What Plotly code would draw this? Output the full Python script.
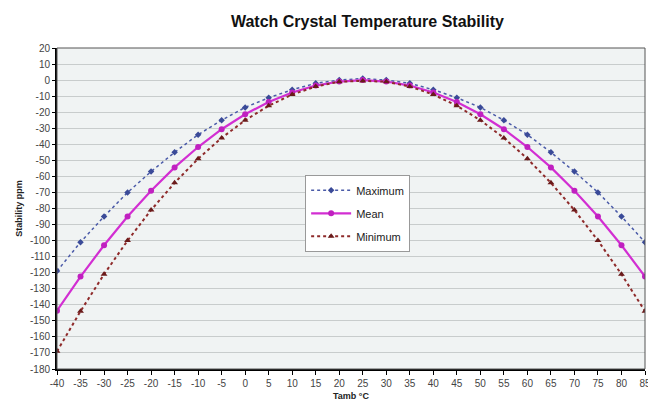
import plotly.graph_objects as go

temps = [-40, -35, -30, -25, -20, -15, -10, -5, 0, 5, 10, 15, 20, 25, 30, 35, 40, 45, 50, 55, 60, 65, 70, 75, 80, 85]
maximum = [-119, -101, -85, -70, -57, -45, -34, -25, -17, -11, -6, -2, 0, 1, 0, -2, -6, -11, -17, -25, -34, -45, -57, -70, -85, -101]
mean = [-143.7, -122.4, -102.9, -85, -68.9, -54.4, -41.7, -30.6, -21.3, -13.6, -7.7, -3.4, -0.9, 0, -0.9, -3.4, -7.7, -13.6, -21.3, -30.6, -41.7, -54.4, -68.9, -85, -102.9, -122.4]
minimum = [-169, -144, -121, -100, -81, -64, -49, -36, -25, -16, -9, -4, -1, -0.5, -1, -4, -9, -16, -25, -36, -49, -64, -81, -100, -121, -144]
x_ticks = list(range(-40, 90, 5))
y_ticks = list(range(-180, 30, 10))

fig = go.Figure()
fig.add_trace(go.Scatter(x=temps, y=maximum, name="Maximum", mode="lines+markers", legendgroup="a",
                         line=dict(color="#4a5aa8", width=1.5, dash="dot"),
                         marker=dict(symbol="diamond", size=5, color="#3a4a98")))
fig.add_trace(go.Scatter(x=temps, y=mean, name="Mean", mode="lines+markers", legendgroup="b",
                         line=dict(color="#d22ed2", width=2.2),
                         marker=dict(symbol="circle", size=6, color="#c020c0")))
fig.add_trace(go.Scatter(x=temps, y=minimum, name="Minimum", mode="lines+markers", legendgroup="c",
                         line=dict(color="#8e2a2a", width=2, dash="dot"),
                         marker=dict(symbol="triangle-up", size=6, color="#6a1a1a")))

fig.update_layout(
    width=648, height=405,
    margin=dict(l=57, r=3, t=48, b=36),
    paper_bgcolor="white",
    plot_bgcolor="#f0f3f3",
    title=dict(text="<b>Watch Crystal Temperature Stability</b>", x=0.567, xanchor="center", y=0.947,
               yanchor="middle",
               font=dict(family="Liberation Sans, Arial", size=16, color="#111")),
    font=dict(family="Liberation Sans, Arial", size=10, color="#333"),
    showlegend=True,
    legend=dict(x=0.422, y=0.605, xanchor="left", yanchor="top",
                bgcolor="white", bordercolor="#999", borderwidth=1,
                font=dict(size=11, color="#222"), tracegroupgap=4, itemwidth=40),
    xaxis=dict(range=[-40, 85], tickvals=x_ticks, ticktext=[str(t) for t in x_ticks],
               showgrid=False, zeroline=False, showline=True, linecolor="black", linewidth=2,
               ticks="outside", ticklen=4, tickcolor="black", mirror=False,
               ticklabeloverflow="allow", automargin=False,
               title=dict(text="<b>Tamb °C</b>", font=dict(size=9, color="#222"), standoff=5),
               tickfont=dict(size=10, color="#444")),
    yaxis=dict(range=[-180, 20], tickvals=y_ticks, ticktext=[str(t) for t in y_ticks],
               showgrid=True, gridcolor="#c8cccc", gridwidth=1, zeroline=False,
               showline=True, linecolor="black", linewidth=2, ticks="outside", ticklen=3,
               tickcolor="black", automargin=False,
               title=dict(text="<b>Stability ppm</b>", font=dict(size=9, color="#222"), standoff=6),
               tickfont=dict(size=10, color="#444")),
)
fig.add_shape(type="rect", xref="paper", yref="paper", x0=0, y0=0, x1=1, y1=1,
              line=dict(color="#555", width=1), layer="above")
fig.write_html("out.html", config={"displayModeBar": False},
               post_script="document.body.style.margin='0';document.body.style.overflow='hidden';")
